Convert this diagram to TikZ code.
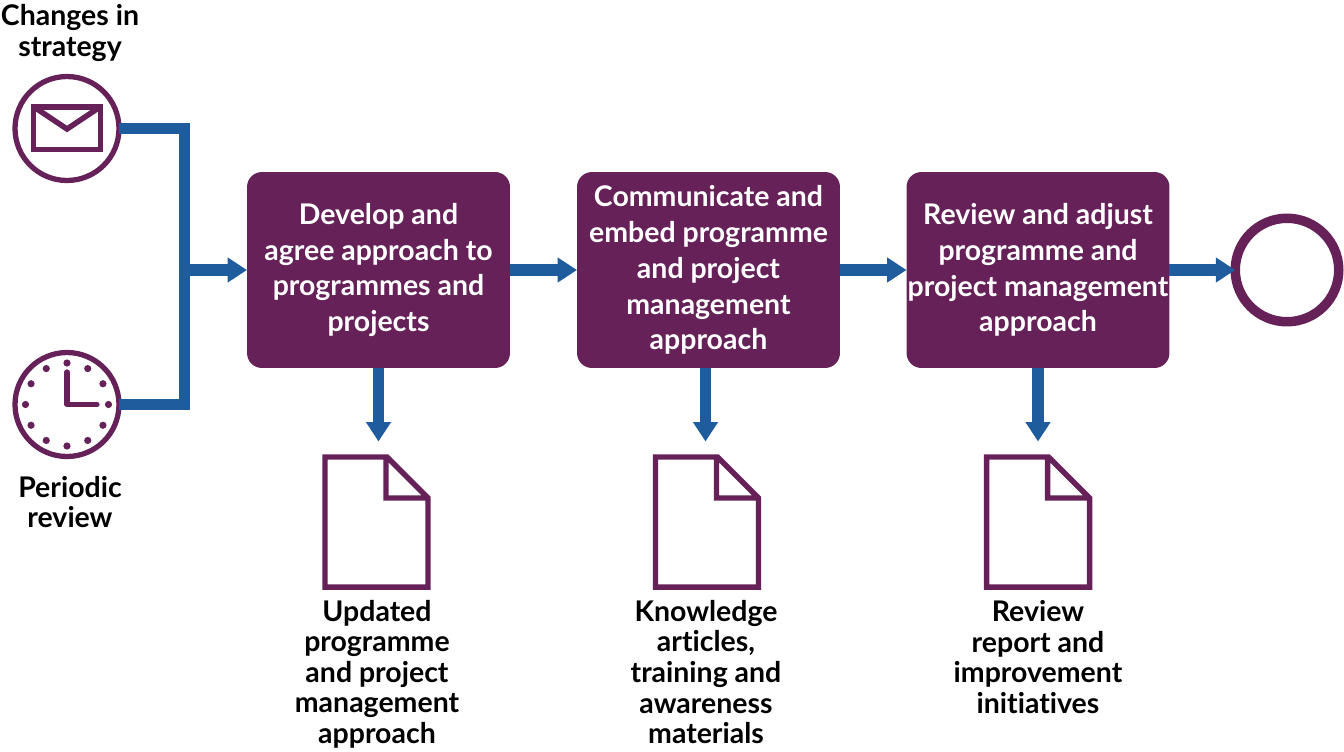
\documentclass[tikz,border=0pt]{standalone}
\usepackage{fontspec}
\setmainfont{Lato}[Ligatures=NoCommon]
\usetikzlibrary{arrows.meta}
\definecolor{plum}{HTML}{652158}
\definecolor{flowblue}{HTML}{1F5C9E}
\tikzset{
  stepbox/.style={fill=plum, text=white, rounded corners=8.5pt, minimum width=5.26cm, minimum height=3.92cm, outer sep=0pt, inner sep=0pt, align=center, font=\fontsize{16.2}{20.4}\selectfont\bfseries},
  eventcircle/.style={circle, draw=plum, line width=3pt, fill=white, minimum size=2.08cm, inner sep=0pt, outer sep=0pt},
  endcircle/.style={circle, draw=plum, line width=5.4pt, fill=white, minimum size=2.07cm, inner sep=0pt, outer sep=0pt},
  docspace/.style={minimum width=2.0cm, minimum height=2.6cm, inner sep=0pt, outer sep=0pt},
  caption/.style={align=center, inner sep=0pt, font=\fontsize{16.2}{17.4}\selectfont\bfseries},
  flow/.style={draw=flowblue, line width=6.4pt},
  flowarrow/.style={flow, -{Triangle[length=11pt,width=13.5pt]}},
  icon/.style={draw=plum, line width=3.1pt, line join=miter}
}
\begin{document}
\begin{tikzpicture}[x=0.02cm, y=-0.02cm]
    \useasboundingbox (0,0) rectangle (1344,751);

    % Events and end point
    \node[eventcircle] (strategy) at (67,128.5) {};
    \node[eventcircle] (periodic) at (67,404.5) {};
    \node[endcircle] (finish) at (1287,270) {};
    \coordinate (join) at (184.5,270);

    % Process steps
    \node[stepbox] (develop) at (378.5,270) {Develop and\\agree approach to\\programmes and\\projects};
    \node[stepbox] (embed) at (708.5,270) {Communicate and\\embed programme\\and project\\management\\approach};
    \node[stepbox] (adjust) at (1038,270) {Review and adjust\\programme and\\project management\\approach};

    % Output documents
    \node[docspace] (docA) at (375,522) {};
    \node[docspace] (docB) at (705.5,522) {};
    \node[docspace] (docC) at (1036.5,522) {};

    % Connectors
    \draw[flow] (strategy) -| (join);
    \draw[flow] (periodic) -| (join);
    \draw[flowarrow] (join) -- (develop);
    \draw[flowarrow] (develop) -- (embed);
    \draw[flowarrow] (embed) -- (adjust);
    \draw[flowarrow] (adjust) -- (finish);
    \draw[flowarrow] (develop.south) -- (378.5,441.5);
    \draw[flowarrow] (705.5,368) -- (705.5,441.5);
    \draw[flowarrow] (adjust.south) -- (1038,441.5);

    % Envelope
    \draw[icon] (33.7,106.8) rectangle (100.3,149.5);
    \draw[icon] (33.7,106.8) -- (67,129) -- (100.3,106.8);

    % Clock
    \foreach \a in {0,30,...,330}
        \fill[plum] (periodic) ++(\a:41.5) circle (3.6);
    \draw[plum, line width=3pt, line cap=round, line join=round] (67,372) -- (67,404.5) -- (97,404.5);

    % Document outlines
    \foreach \d in {docA,docB,docC}
        \draw[icon, shift={(\d.north west)}] (0,0) -- (62,0) -- (103,41) -- (103,130) -- (0,130) -- cycle
            (61,0) -- (61,41) -- (103,41);

    % Labels
    \node[caption] (strategylabel) at (70,33) {Changes in\\strategy};
    \node[caption] (periodiclabel) at (70,502) {Periodic\\review};
    \node[caption] (outA) at (377,674) {Updated\\programme\\and project\\management\\approach};
    \node[caption] (outB) at (706,672) {Knowledge\\articles,\\training and\\awareness\\materials};
    \node[caption] (outC) at (1038,657) {Review\\report and\\improvement\\initiatives};
\end{tikzpicture}
\end{document}
